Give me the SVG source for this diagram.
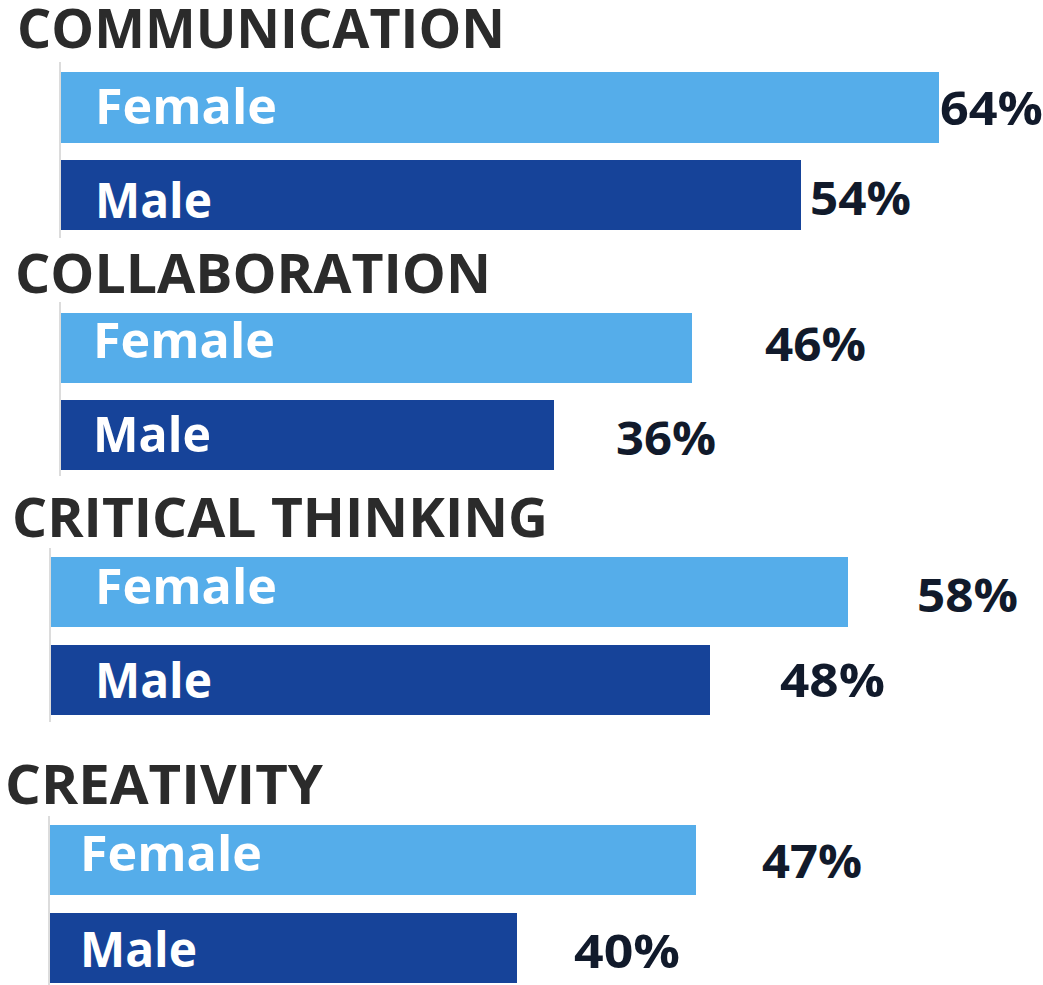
<svg xmlns="http://www.w3.org/2000/svg" width="1043" height="985" viewBox="0 0 1043 985">
<style>
text{font-family:"Open Sans","Liberation Sans",sans-serif;font-weight:700}
.t{font-size:53px;fill:#2b2b2b}
.l{font-size:48px;fill:#ffffff}
.p{font-size:46px;fill:#111a2b}
.f{fill:#55adea}
.m{fill:#164399}
.ax{stroke:#dcdcdc;stroke-width:2}
</style>
<rect width="1043" height="985" fill="#ffffff"/>
<g id="axes">
<line class="ax" x1="60" y1="62" x2="60" y2="238"/>
<line class="ax" x1="60" y1="302" x2="60" y2="476"/>
<line class="ax" x1="50" y1="548" x2="50" y2="722"/>
<line class="ax" x1="49" y1="816" x2="49" y2="985"/>
</g>
<g id="communication">
<text class="t" x="17" y="48" textLength="488" lengthAdjust="spacingAndGlyphs">COMMUNICATION</text>
<rect class="f" x="61" y="72" width="878" height="71"/>
<text class="l" x="95" y="124" textLength="182" lengthAdjust="spacingAndGlyphs">Female</text>
<text class="p" x="940" y="125" textLength="103" lengthAdjust="spacingAndGlyphs">64%</text>
<rect class="m" x="61" y="160" width="740" height="70"/>
<text class="l" x="95" y="218" textLength="117" lengthAdjust="spacingAndGlyphs">Male</text>
<text class="p" x="810" y="215" textLength="101" lengthAdjust="spacingAndGlyphs">54%</text>
</g>
<g id="collaboration">
<text class="t" x="15" y="293" textLength="476" lengthAdjust="spacingAndGlyphs">COLLABORATION</text>
<rect class="f" x="61" y="313" width="631" height="70"/>
<text class="l" x="93" y="358" textLength="182" lengthAdjust="spacingAndGlyphs">Female</text>
<text class="p" x="765" y="361" textLength="101" lengthAdjust="spacingAndGlyphs">46%</text>
<rect class="m" x="61" y="400" width="493" height="70"/>
<text class="l" x="93" y="452" textLength="118" lengthAdjust="spacingAndGlyphs">Male</text>
<text class="p" x="616" y="455" textLength="100" lengthAdjust="spacingAndGlyphs">36%</text>
</g>
<g id="critical-thinking">
<text class="t" x="12" y="537" textLength="536" lengthAdjust="spacingAndGlyphs">CRITICAL THINKING</text>
<rect class="f" x="51" y="557" width="797" height="70"/>
<text class="l" x="95" y="604" textLength="182" lengthAdjust="spacingAndGlyphs">Female</text>
<text class="p" x="917" y="612" textLength="101" lengthAdjust="spacingAndGlyphs">58%</text>
<rect class="m" x="51" y="645" width="659" height="70"/>
<text class="l" x="95" y="698" textLength="117" lengthAdjust="spacingAndGlyphs">Male</text>
<text class="p" x="780" y="697" textLength="105" lengthAdjust="spacingAndGlyphs">48%</text>
</g>
<g id="creativity">
<text class="t" x="5" y="804" textLength="318" lengthAdjust="spacingAndGlyphs">CREATIVITY</text>
<rect class="f" x="50" y="825" width="646" height="70"/>
<text class="l" x="80" y="871" textLength="182" lengthAdjust="spacingAndGlyphs">Female</text>
<text class="p" x="762" y="878" textLength="100" lengthAdjust="spacingAndGlyphs">47%</text>
<rect class="m" x="50" y="913" width="467" height="70"/>
<text class="l" x="80" y="967" textLength="117" lengthAdjust="spacingAndGlyphs">Male</text>
<text class="p" x="574" y="968" textLength="106" lengthAdjust="spacingAndGlyphs">40%</text>
</g>
</svg>
